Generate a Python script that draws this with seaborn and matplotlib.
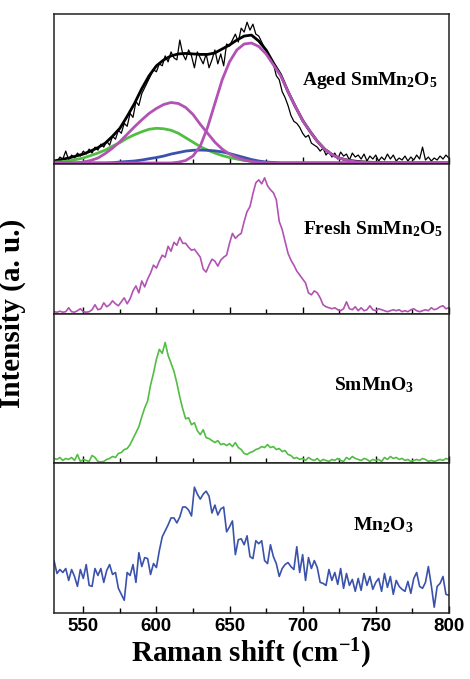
import matplotlib
matplotlib.use('Agg')
import seaborn as sns
import matplotlib.pyplot as plt
from matplotlib.ticker import MultipleLocator
import numpy as np
import pandas as pd

# Raman shift grid (cm-1) for the measured spectra and for the fitted peaks
raman_shift = np.arange(530, 801, 2)
fit_shift = np.arange(530, 801, 5)

aged_raw = [3, 1, 6, 4, 12, 3, 8, 5, 10, 7,
            12, 9, 14, 10, 16, 13, 19, 16, 22, 18,
            27, 24, 33, 30, 40, 37, 50, 46, 62, 58,
            70, 76, 82, 88, 94, 92, 100, 98, 108, 102,
            112, 106, 104, 124, 110, 104, 114, 108, 96, 112,
            106, 100, 110, 96, 104, 114, 100, 110, 98, 120,
            118, 124, 130, 122, 136, 132, 142, 134, 140, 130,
            128, 122, 116, 112, 104, 100, 88, 84, 72, 66,
            58, 48, 42, 40, 36, 30, 26, 28, 20, 18,
            16, 12, 15, 8, 12, 6, 10, 4, 11, 7,
            9, 3, 10, 6, 8, 4, 9, 2, 7, 4,
            8, 2, 6, 3, 9, 4, 8, 2, 5, 3,
            7, 2, 6, 3, 8, 4, 16, 3, 6, 2,
            5, 3, 7, 4, 8, 5]
fresh = [1, 0.5, 1.5, 0.5, 1, 5, 1, 0.5, 2, 4,
         1, 0.5, 1, 3, 8, 3, 4, 10, 6, 8,
         12, 9, 7, 11, 15, 9, 14, 22, 27, 20,
         32, 26, 34, 40, 48, 45, 52, 58, 56, 67,
         62, 71, 68, 76, 70, 70, 66, 63, 64, 60,
         56, 44, 41, 48, 54, 52, 47, 53, 56, 58,
         70, 80, 75, 78, 80, 92, 102, 107, 120, 131,
         134, 130, 136, 128, 124, 121, 114, 92, 84, 72,
         60, 53, 48, 42, 38, 34, 30, 20, 18, 22,
         20, 15, 8, 6, 5, 4, 5, 3, 2, 4,
         11, 4, 3, 6, 2, 5, 2, 3, 7, 3,
         2, 4, 3, 2, 1, 2, 3, 2, 3, 1,
         2, 1, 3, 4, 2, 1, 2, 3, 2, 5,
         3, 4, 6, 7, 4, 5]
smmno3 = [4, 3, 5, 2, 4, 3, 5, 2, 8, 1,
          3, 2, 1, 7, 5, 1, 0.5, 1, 3, 4,
          6, 5, 9, 10, 13, 14, 18, 24, 30, 36,
          46, 55, 62, 78, 90, 104, 114, 110, 121, 108,
          100, 92, 80, 66, 54, 44, 45, 38, 40, 32,
          28, 33, 25, 24, 22, 20, 22, 18, 19, 17,
          19, 16, 20, 15, 13, 9, 8, 10, 11, 13,
          14, 16, 15, 18, 15, 16, 13, 14, 11, 12,
          8, 7, 4, 5, 3, 4, 2, 5, 3, 2,
          4, 1, 3, 2, 1, 3, 2, 4, 2, 1,
          5, 3, 6, 4, 3, 2, 4, 3, 1, 3,
          2, 3, 1, 5, 3, 6, 4, 5, 3, 4,
          2, 3, 1, 2, 3, 2, 4, 3, 1, 2,
          1, 2, 3, 2, 4, 3]
mn2o3 = [52, 39, 43, 40, 44, 32, 43, 36, 26, 43,
         34, 48, 27, 26, 44, 37, 44, 30, 42, 48,
         38, 40, 24, 18, 12, 40, 37, 48, 30, 60,
         46, 55, 54, 38, 49, 45, 62, 76, 82, 88,
         95, 95, 90, 96, 106, 106, 103, 97, 126, 119,
         114, 119, 122, 117, 100, 108, 98, 104, 106, 81,
         86, 92, 58, 73, 74, 68, 77, 56, 54, 72,
         69, 72, 52, 49, 68, 56, 49, 36, 44, 48,
         50, 46, 43, 66, 40, 58, 32, 55, 44, 52,
         45, 30, 29, 27, 43, 32, 40, 28, 44, 24,
         39, 27, 33, 21, 34, 22, 39, 27, 36, 23,
         30, 34, 21, 39, 25, 36, 18, 32, 26, 23,
         21, 31, 19, 34, 40, 26, 24, 30, 46, 27,
         5, 26, 29, 36, 18, 17]

# fitted curves of the aged sample
aged_fit = [2, 3.5, 5, 7, 9, 12, 15.5, 20, 27, 35,
            47, 60, 75, 88, 98, 104, 108, 110, 110.5, 110,
            109.5, 109.5, 111, 115, 119, 124, 128, 129, 123, 114,
            101, 89, 72, 57, 43, 32, 22, 14, 8.5, 5,
            3, 2, 1.2, 0.8, 0.5, 0.3, 0.2, 0.1, 0, 0,
            0, 0, 0, 0, 0]
peak_666 = [0, 0, 0, 0, 0, 0, 0, 0, 0, 0,
            0, 0, 0, 0, 0, 0, 0, 0.8, 2.5, 7,
            17, 36, 60, 84, 102, 114, 120, 121, 117.5, 110,
            99, 88, 72, 57, 43, 32, 22, 14, 8.5, 5,
            3, 1.5, 0.8, 0.3, 0, 0, 0, 0, 0, 0,
            0, 0, 0, 0, 0]
peak_611 = [0, 0, 0, 0, 1, 2.5, 5, 9.5, 15, 21.5,
            29, 36.5, 43.5, 50, 55, 59, 61, 60, 56, 49,
            39, 30, 21, 14, 9, 5.5, 3, 1.5, 0.7, 0.3,
            0, 0, 0, 0, 0, 0, 0, 0, 0, 0,
            0, 0, 0, 0, 0, 0, 0, 0, 0, 0,
            0, 0, 0, 0, 0]
peak_601 = [0.7, 1.2, 2, 3.5, 5, 7.5, 10, 13, 17, 20.5,
            25, 28.5, 31.5, 34, 35, 34.5, 33, 30, 25.5, 21,
            16.5, 13, 10, 7.5, 5.5, 4, 2.5, 1.8, 1, 0.5,
            0.3, 0, 0, 0, 0, 0, 0, 0, 0, 0,
            0, 0, 0, 0, 0, 0, 0, 0, 0, 0,
            0, 0, 0, 0, 0]
peak_630 = [0, 0, 0, 0, 0, 0, 0, 0, 0.3, 1,
            1.5, 2, 3, 4.3, 5.5, 7, 9, 10.5, 12, 12.8,
            13, 12.8, 12.2, 11.2, 9.5, 7.5, 5.5, 3.5, 2, 1,
            0.5, 0, 0, 0, 0, 0, 0, 0, 0, 0,
            0, 0, 0, 0, 0, 0, 0, 0, 0, 0,
            0, 0, 0, 0, 0]

labels = ['Aged SmMn$_2$O$_5$', 'Fresh SmMn$_2$O$_5$', 'SmMnO$_3$', 'Mn$_2$O$_3$']
label_pos = [(0.628, 0.56), (0.63, 0.567), (0.71, 0.523), (0.757, 0.59)]

magenta = '#B252B4'
green = '#52BD43'
blue = '#3A52AC'

sns.set_style('ticks')
plt.rcParams['font.family'] = ['Liberation Serif', 'DejaVu Serif']
plt.rcParams['text.color'] = 'black'
plt.rcParams['axes.labelcolor'] = 'black'
plt.rcParams['xtick.color'] = 'black'
plt.rcParams['mathtext.fontset'] = 'custom'
plt.rcParams['mathtext.rm'] = 'Liberation Serif:bold'
plt.rcParams['mathtext.it'] = 'Liberation Serif:bold'
plt.rcParams['mathtext.bf'] = 'Liberation Serif:bold'

fig, axes = plt.subplots(4, 1, figsize=(4.7, 6.79), dpi=100, sharex=True)
fig.subplots_adjust(left=0.115, right=0.955, top=0.979, bottom=0.097, hspace=0)

# top panel: aged sample with its fit
ax = axes[0]
sns.lineplot(x=raman_shift, y=aged_raw, ax=ax, color='black', lw=0.9)
sns.lineplot(x=fit_shift, y=aged_fit, ax=ax, color='black', lw=2)
sns.lineplot(x=fit_shift, y=peak_601, ax=ax, color=green, lw=2)
sns.lineplot(x=fit_shift, y=peak_630, ax=ax, color=blue, lw=2)
sns.lineplot(x=fit_shift, y=peak_611, ax=ax, color=magenta, lw=2)
sns.lineplot(x=fit_shift, y=peak_666, ax=ax, color=magenta, lw=2)

sns.lineplot(x=raman_shift, y=fresh, ax=axes[1], color=magenta, lw=1.2)
sns.lineplot(x=raman_shift, y=smmno3, ax=axes[2], color=green, lw=1.2)
sns.lineplot(x=raman_shift, y=mn2o3, ax=axes[3], color=blue, lw=1.2)

for ax, lab, pos in zip(axes, labels, label_pos):
    ax.set_xlim(530, 800)
    ax.set_ylim(-1, 150)
    ax.set_yticks([])
    ax.set_ylabel('')
    ax.xaxis.set_major_locator(MultipleLocator(50))
    ax.xaxis.set_minor_locator(MultipleLocator(25))
    ax.tick_params(axis='x', which='major', direction='in', length=5, width=1, top=False)
    ax.tick_params(axis='x', which='minor', direction='in', length=3.5, width=1, top=False)
    for sp in ax.spines.values():
        sp.set_visible(True)
        sp.set_linewidth(1.1)
        sp.set_color('#222222')
    ax.text(pos[0], pos[1], lab, transform=ax.transAxes, ha='left', va='center',
            fontsize=14, fontweight='bold', color='black')

axes[-1].set_xticks([550, 600, 650, 700, 750, 800])
for t in axes[-1].get_xticklabels():
    t.set_fontfamily('Liberation Sans')
    t.set_fontweight('bold')
    t.set_fontsize(13.5)
axes[-1].set_xlabel('Raman shift (cm$^{-1}$)', fontsize=21, fontweight='bold',
                    labelpad=1, color='black')
fig.text(0.026, 0.539, 'Intensity (a. u.)', rotation=90, ha='center', va='center',
         fontsize=21, fontweight='bold', color='black')

plt.savefig('out.png', dpi=100)
